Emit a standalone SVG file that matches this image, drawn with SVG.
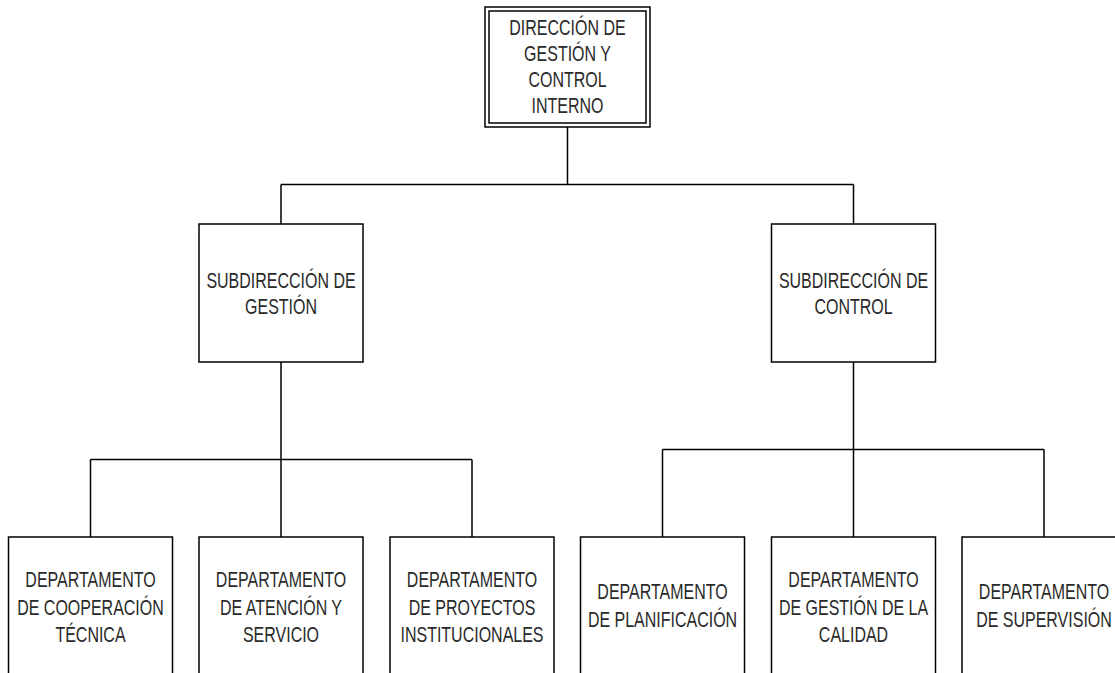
<svg xmlns="http://www.w3.org/2000/svg" width="1115" height="673" viewBox="0 0 1115 673">
<style>
.box{fill:#fff;stroke:#000;stroke-width:1.5}
.ln{fill:none;stroke:#000;stroke-width:1.5}
.t{font-family:"Liberation Sans",Arial,sans-serif;font-size:16px;fill:#2a2a2a;text-anchor:middle}
</style>
<rect width="1115" height="673" fill="#fff"/>
<g id="connectors">
<path class="ln" d="M567.5 127V184.5M281 184.5H853.5M281 184.5V224M853.5 184.5V224M281 362V459.5M90.5 459.5H472M90.5 459.5V537M281 459.5V537M472 459.5V537M853.5 362V449.5M662.5 449.5H1044M662.5 449.5V537M853.5 449.5V537M1044 449.5V537"/>
</g>
<g id="direccion">
<rect class="box" x="485" y="7" width="165" height="120"/>
<rect class="box" x="489" y="11" width="157" height="112"/>
<text class="t" transform="translate(567.5,35) scale(1,1.37)">DIRECCIÓN DE</text>
<text class="t" transform="translate(567.5,61) scale(1,1.37)">GESTIÓN Y</text>
<text class="t" transform="translate(567.5,87) scale(1,1.37)">CONTROL</text>
<text class="t" transform="translate(567.5,113) scale(1,1.37)">INTERNO</text>
</g>
<g id="sub-gestion">
<rect class="box" x="199" y="224" width="164" height="138"/>
<text class="t" transform="translate(281,288) scale(1,1.37)">SUBDIRECCIÓN DE</text>
<text class="t" transform="translate(281,314) scale(1,1.37)">GESTIÓN</text>
</g>
<g id="sub-control">
<rect class="box" x="771.5" y="224" width="164" height="138"/>
<text class="t" transform="translate(853.5,288) scale(1,1.37)">SUBDIRECCIÓN DE</text>
<text class="t" transform="translate(853.5,314) scale(1,1.37)">CONTROL</text>
</g>
<g id="dep-cooperacion">
<rect class="box" x="8.5" y="537" width="164" height="138"/>
<text class="t" transform="translate(90.5,587) scale(1,1.37)">DEPARTAMENTO</text>
<text class="t" transform="translate(90.5,614.5) scale(1,1.37)">DE COOPERACIÓN</text>
<text class="t" transform="translate(90.5,642) scale(1,1.37)">TÉCNICA</text>
</g>
<g id="dep-atencion">
<rect class="box" x="199" y="537" width="164" height="138"/>
<text class="t" transform="translate(281,587) scale(1,1.37)">DEPARTAMENTO</text>
<text class="t" transform="translate(281,614.5) scale(1,1.37)">DE ATENCIÓN Y</text>
<text class="t" transform="translate(281,642) scale(1,1.37)">SERVICIO</text>
</g>
<g id="dep-proyectos">
<rect class="box" x="390" y="537" width="164" height="138"/>
<text class="t" transform="translate(472,587) scale(1,1.37)">DEPARTAMENTO</text>
<text class="t" transform="translate(472,614.5) scale(1,1.37)">DE PROYECTOS</text>
<text class="t" transform="translate(472,642) scale(1,1.37)">INSTITUCIONALES</text>
</g>
<g id="dep-planificacion">
<rect class="box" x="580.5" y="537" width="164" height="138"/>
<text class="t" transform="translate(662.5,599) scale(1,1.37)">DEPARTAMENTO</text>
<text class="t" transform="translate(662.5,626.5) scale(1,1.37)">DE PLANIFICACIÓN</text>
</g>
<g id="dep-calidad">
<rect class="box" x="771.5" y="537" width="164" height="138"/>
<text class="t" transform="translate(853.5,587) scale(1,1.37)">DEPARTAMENTO</text>
<text class="t" transform="translate(853.5,614.5) scale(1,1.37)">DE GESTIÓN DE LA</text>
<text class="t" transform="translate(853.5,642) scale(1,1.37)">CALIDAD</text>
</g>
<g id="dep-supervision">
<rect class="box" x="962" y="537" width="164" height="138"/>
<text class="t" transform="translate(1044,599) scale(1,1.37)">DEPARTAMENTO</text>
<text class="t" transform="translate(1044,626.5) scale(1,1.37)">DE SUPERVISIÓN</text>
</g>
</svg>
